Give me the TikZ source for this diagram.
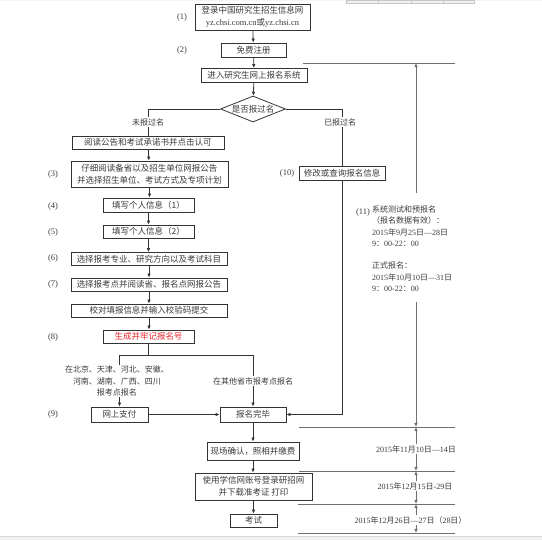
\documentclass[tikz,border=0pt]{standalone}
\usepackage{fontspec}
\setmainfont{Liberation Serif}
\newfontfamily\cjk{Noto Sans CJK SC}
\usetikzlibrary{shapes.geometric,arrows.meta}
\newcommand\zh[1]{{\cjk #1}}
\definecolor{lnc}{HTML}{333333}
\definecolor{txc}{HTML}{3A3A3A}
\definecolor{gyc}{HTML}{707070}
\definecolor{rdc}{HTML}{E8262A}
\begin{document}
\begin{tikzpicture}[x=1pt,y=-1pt,
  every node/.style={font=\fontsize{8}{12}\selectfont, text=txc, inner sep=0pt},
  box/.style={draw=lnc, line width=0.8pt, align=center, font=\fontsize{8.5}{12}\selectfont\cjk},
  arr/.style={-{Latex[length=4pt,width=3.6pt]}, draw=lnc, line width=0.8pt},
  garr/.style={-{Latex[length=4pt,width=3.6pt]}, draw=gyc, line width=0.8pt},
  wire/.style={draw=lnc, line width=0.8pt},
  lab/.style={font=\fontsize{8.5}{10}\selectfont\rmfamily},
  note/.style={font=\fontsize{8}{11.3}\selectfont\cjk, align=center, fill=white, inner sep=1pt},
  datel/.style={font=\fontsize{8}{11.3}\selectfont, fill=white, inner sep=1pt},
  tline/.style={draw=gyc, line width=0.8pt}
]
\useasboundingbox (0,0) rectangle (542,540);
% window chrome
\fill[gray!8] (0,0) rectangle (542,1.5);
\draw[fill=gray!12, draw=gray!45] (346,0) rectangle (474,3.5);
\foreach \xx in {378,411,443} \draw[gray!45] (\xx,0) -- (\xx,3.5);
\fill[gray!10] (0,536) rectangle (542,540);
\draw[gray!30] (0,536) -- (542,536);

% main column top
\node[box, minimum width=115pt, minimum height=26pt] (b1) at (252.5,17) {登录中国研究生招生信息网\\{\rmfamily yz.chsi.com.cn}或{\rmfamily yz.chsi.cn}};
\node[box, minimum width=65pt, minimum height=14pt] (b2) at (253.5,50) {免费注册};
\node[box, minimum width=106pt, minimum height=14pt] (b3) at (254,75.5) {进入研究生网上报名系统};
\node[diamond, draw=lnc, line width=0.8pt, aspect=2.5, minimum width=65pt, minimum height=26pt, font=\fontsize{8.5}{10}\selectfont\cjk] (dia) at (253,109) {是否报过名};

\node[lab] (l1) at (182,17) {(1)};
\node[lab] (l2) at (182,50) {(2)};

\draw[arr] (b1) -- (b2);
\draw[arr] (b2) -- (b3);
\draw[arr] (b3) -- (dia);

% left column
\node[box, minimum width=152pt, minimum height=13pt] (r1) at (148,142.5) {阅读公告和考试承诺书并点击认可};
\node[box, minimum width=157pt, minimum height=26pt] (r3) at (149.5,174) {仔细阅读备省以及招生单位网报公告\\并选择招生单位、考试方式及专项计划};
\node[box, minimum width=91pt, minimum height=14pt] (r4) at (148.5,205) {填写个人信息（1）};
\node[box, minimum width=91pt, minimum height=13pt] (r5) at (148.5,231.5) {填写个人信息（2）};
\node[box, minimum width=156pt, minimum height=13pt] (r6) at (149,259) {选择报考专业、研究方向以及考试科目};
\node[box, minimum width=156pt, minimum height=13pt] (r7) at (149,284.5) {选择报考点并阅读省、报名点网报公告};
\node[box, minimum width=156pt, minimum height=13pt] (r8) at (149,310.5) {校对填报信息并输入校验码提交};
\node[box, minimum width=91pt, minimum height=13pt, text=rdc] (r9) at (148.5,336.5) {生成并牢记报名号};

\node[lab] (l3) at (53,174) {(3)};
\node[lab] (l4) at (53,206) {(4)};
\node[lab] (l5) at (53,232) {(5)};
\node[lab] (l6) at (53,258) {(6)};
\node[lab] (l7) at (53,284) {(7)};
\node[lab] (l8) at (53,337) {(8)};
\node[lab] (l9) at (53,414) {(9)};

\coordinate (dl) at (148,109);
\draw[wire] (dia.west) -- (dl) -- (r1.north);
\node[note] (nyes) at (148,122) {未报过名};
\draw[arr] (r1) -- (r3);
\draw[arr] (r3) -- (r3 |- r4.north);
\draw[arr] (r4) -- (r5);
\draw[arr] (r5.south) -- (r5.south |- r6.north);
\draw[arr] (r6) -- (r7);
\draw[arr] (r7) -- (r8);
\draw[arr] (r8.south) -- (r8.south |- r9.north);

% split
\node[box, minimum width=57pt, minimum height=15pt] (pay) at (119.5,414.5) {网上支付};
\node[box, minimum width=66pt, minimum height=15pt] (done) at (253,414.5) {报名完毕};
\coordinate (sp) at (r9.south |- 0,355);
\draw[wire] (r9.south) -- (sp);
\draw[arr] (sp) -| (pay.north);
\draw[arr] (sp) -| (done.north);
\node[note] (nleft) at (117,381) {在北京、天津、河北、安徽、\\河南、湖南、广西、四川\\报考点报名};
\node[note] (nright) at (253,381) {在其他省市报考点报名};
\draw[arr] (pay) -- (done);

% right branch
\node[box, minimum width=86pt, minimum height=14pt] (modify) at (342,173) {修改或查询报名信息};
\node[lab] (l10) at (287,173) {(10)};
\coordinate (dr) at (342,109);
\draw[wire] (dia.east) -- (dr) -- (modify.north);
\node[note] (nno) at (340,122) {已报过名};
\draw[arr] (modify.south) |- (done.east);

% lower column
\node[box, minimum width=92pt, minimum height=18pt] (conf) at (253,451) {现场确认，照相并缴费};
\node[box, minimum width=117pt, minimum height=27pt] (prt) at (253.5,486.5) {使用学信网账号登录研招网\\并下载准考证 打印};
\node[box, minimum width=47pt, minimum height=13pt] (exam) at (253.5,520.5) {考试};
\draw[arr] (done) -- (conf);
\draw[arr] (conf.south) -- (conf.south |- prt.north);
\draw[arr] (prt.south) -- (prt.south |- exam.north);

% timeline
\coordinate (t0a) at (303,63);  \coordinate (t0b) at (455,63);
\coordinate (t1a) at (299,427); \coordinate (t1b) at (455,427);
\coordinate (t2a) at (299,471); \coordinate (t2b) at (455,471);
\coordinate (t3a) at (298,504); \coordinate (t3b) at (455,504);
\coordinate (t4a) at (298,533); \coordinate (t4b) at (455,533);
\foreach \t in {t0,t1,t2,t3,t4} \draw[tline] (\t a) -- (\t b);

\coordinate (vx) at (416,0);
\node[lab] (l11) at (363,212) {(11)};
\node[anchor=north west, align=left, font=\fontsize{8}{11.3}\selectfont] (info) at (372,205.5)
 {\zh{系统测试和预报名}\\
  \zh{（报名数据有效）：}\\
  2015\zh{年}9\zh{月}25\zh{日}—28\zh{日}\\
  9\zh{：}00-22\zh{：}00\\[11.3pt]
  \zh{正式报名：}\\
  2015\zh{年}10\zh{月}10\zh{日}—31\zh{日}\\
  9\zh{：}00-22\zh{：}00};
\coordinate (va) at (416,193);
\coordinate (vb) at (416,302);
\draw[garr] (va) -- (vx |- t0a);
\draw[garr] (vb) -- (vx |- t1a);

\node[datel] (d1) at (416,449) {2015\zh{年}11\zh{月}10\zh{日}—14\zh{日}};
\node[datel] (d2) at (415,486) {2015\zh{年}12\zh{月}15\zh{日}-29\zh{日}};
\node[datel] (d3) at (410.5,520) {2015\zh{年}12\zh{月}26\zh{日}—27\zh{日（}28\zh{日）}};
\draw[garr] (vx |- d1.north) -- (vx |- t1a);
\draw[garr] (vx |- d1.south) -- (vx |- t2a);
\draw[garr] (vx |- d2.north) -- (vx |- t2a);
\draw[garr] (vx |- d2.south) -- (vx |- t3a);
\draw[garr] (vx |- d3.north) -- (vx |- t3a);
\draw[garr] (vx |- d3.south) -- (vx |- t4a);
\end{tikzpicture}
\end{document}
